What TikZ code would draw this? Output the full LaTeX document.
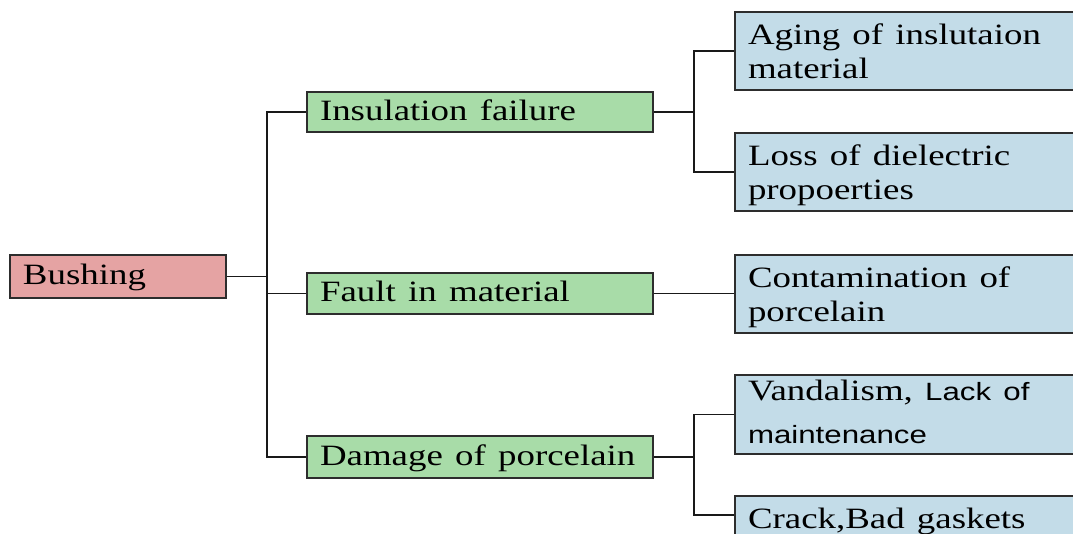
\documentclass[tikz,border=0pt]{standalone}
\usepackage{fontspec}
\setmainfont{Liberation Serif}
\newfontfamily\sansf{Liberation Sans}
\usepackage{graphicx}
\definecolor{rootfill}{RGB}{229,163,163}
\definecolor{midfill}{RGB}{168,220,168}
\definecolor{leaffill}{RGB}{195,220,232}
\definecolor{boxedge}{RGB}{45,45,45}
\definecolor{wire}{RGB}{25,25,25}
% widened, left-aligned box label, lowered by #1 without changing its size
\newcommand\lbl[2][1.5pt]{\raisebox{-#1}[\height][\depth]{\scalebox{1.25}[1]{\begin{tabular}{@{}l@{}}#2\end{tabular}}}}
\newcommand\sanspart[1]{{\sansf\fontsize{25}{34}\selectfont #1}}
\begin{document}
\begin{tikzpicture}[x=1pt,y=-1pt,
  box/.style={draw=boxedge, line width=2pt, anchor=north west,
    inner xsep=13pt, inner ysep=0pt, align=left,
    font=\fontsize{29.5}{34}\selectfont},
  rootbox/.style={box, fill=rootfill, text width=190pt, minimum height=43pt},
  midbox/.style={box, fill=midfill, text width=320pt},
  leafbox/.style={box, fill=leaffill, text width=334pt, minimum height=78pt},
  link/.style={draw=wire, line width=1.9pt}]
\path[use as bounding box] (0,0) rectangle (1073,534);
\clip (0,0) rectangle (1073,534);
\fill[white] (0,0) rectangle (1073,534);

% root
\node[rootbox] (bush) at (9,254) {\lbl{Bushing}};

% failure modes
\node[midbox, minimum height=40pt] (ins) at (306,91) {\lbl{Insulation failure}};
\node[midbox, minimum height=41pt] (fault) at (306,272) {\lbl{Fault in material}};
\node[midbox, minimum height=42pt] (dam) at (306,435) {\lbl{Damage of porcelain}};

% causes
\node[leafbox] (aging) at (734,11) {\lbl[3.5pt]{Aging of inslutaion\\material}};
\node[leafbox] (loss) at (734,132) {\lbl[3.5pt]{Loss of dielectric\\propoerties}};
\node[leafbox] (contam) at (734,254) {\lbl[3.5pt]{Contamination of\\porcelain}};
\node[leafbox, minimum height=79pt] (vand) at (734,374) {\lbl[1pt]{Vandalism, \sanspart{Lack of}\\[9pt]\sanspart{maintenance}}};
\node[leafbox] (crack) at (734,495) {\lbl[3.5pt]{Crack,Bad gaskets\\\mbox{}}};

% junction columns
\coordinate (trunk) at (267,0);
\coordinate (fork) at (694,0);
\coordinate (crackin) at ([yshift=-20pt]crack.north west);

% root to failure modes
\draw[link] (bush.east) -- (bush.east -| trunk);
\draw[link] (ins.west) -- (ins.west -| trunk) -- (dam.west -| trunk) -- (dam.west);
\draw[link] (fault.west) -- (fault.west -| trunk);

% failure modes to causes
\draw[link] (ins.east) -- (ins.east -| fork);
\draw[link] (aging.west) -- (aging.west -| fork) -- (loss.west -| fork) -- (loss.west);
\draw[link] (fault.east) -- (fault.east -| contam.west);
\draw[link] (dam.east) -- (dam.east -| fork);
\draw[link] (vand.west) -- (vand.west -| fork) -- (crackin -| fork) -- (crackin);
\end{tikzpicture}
\end{document}
